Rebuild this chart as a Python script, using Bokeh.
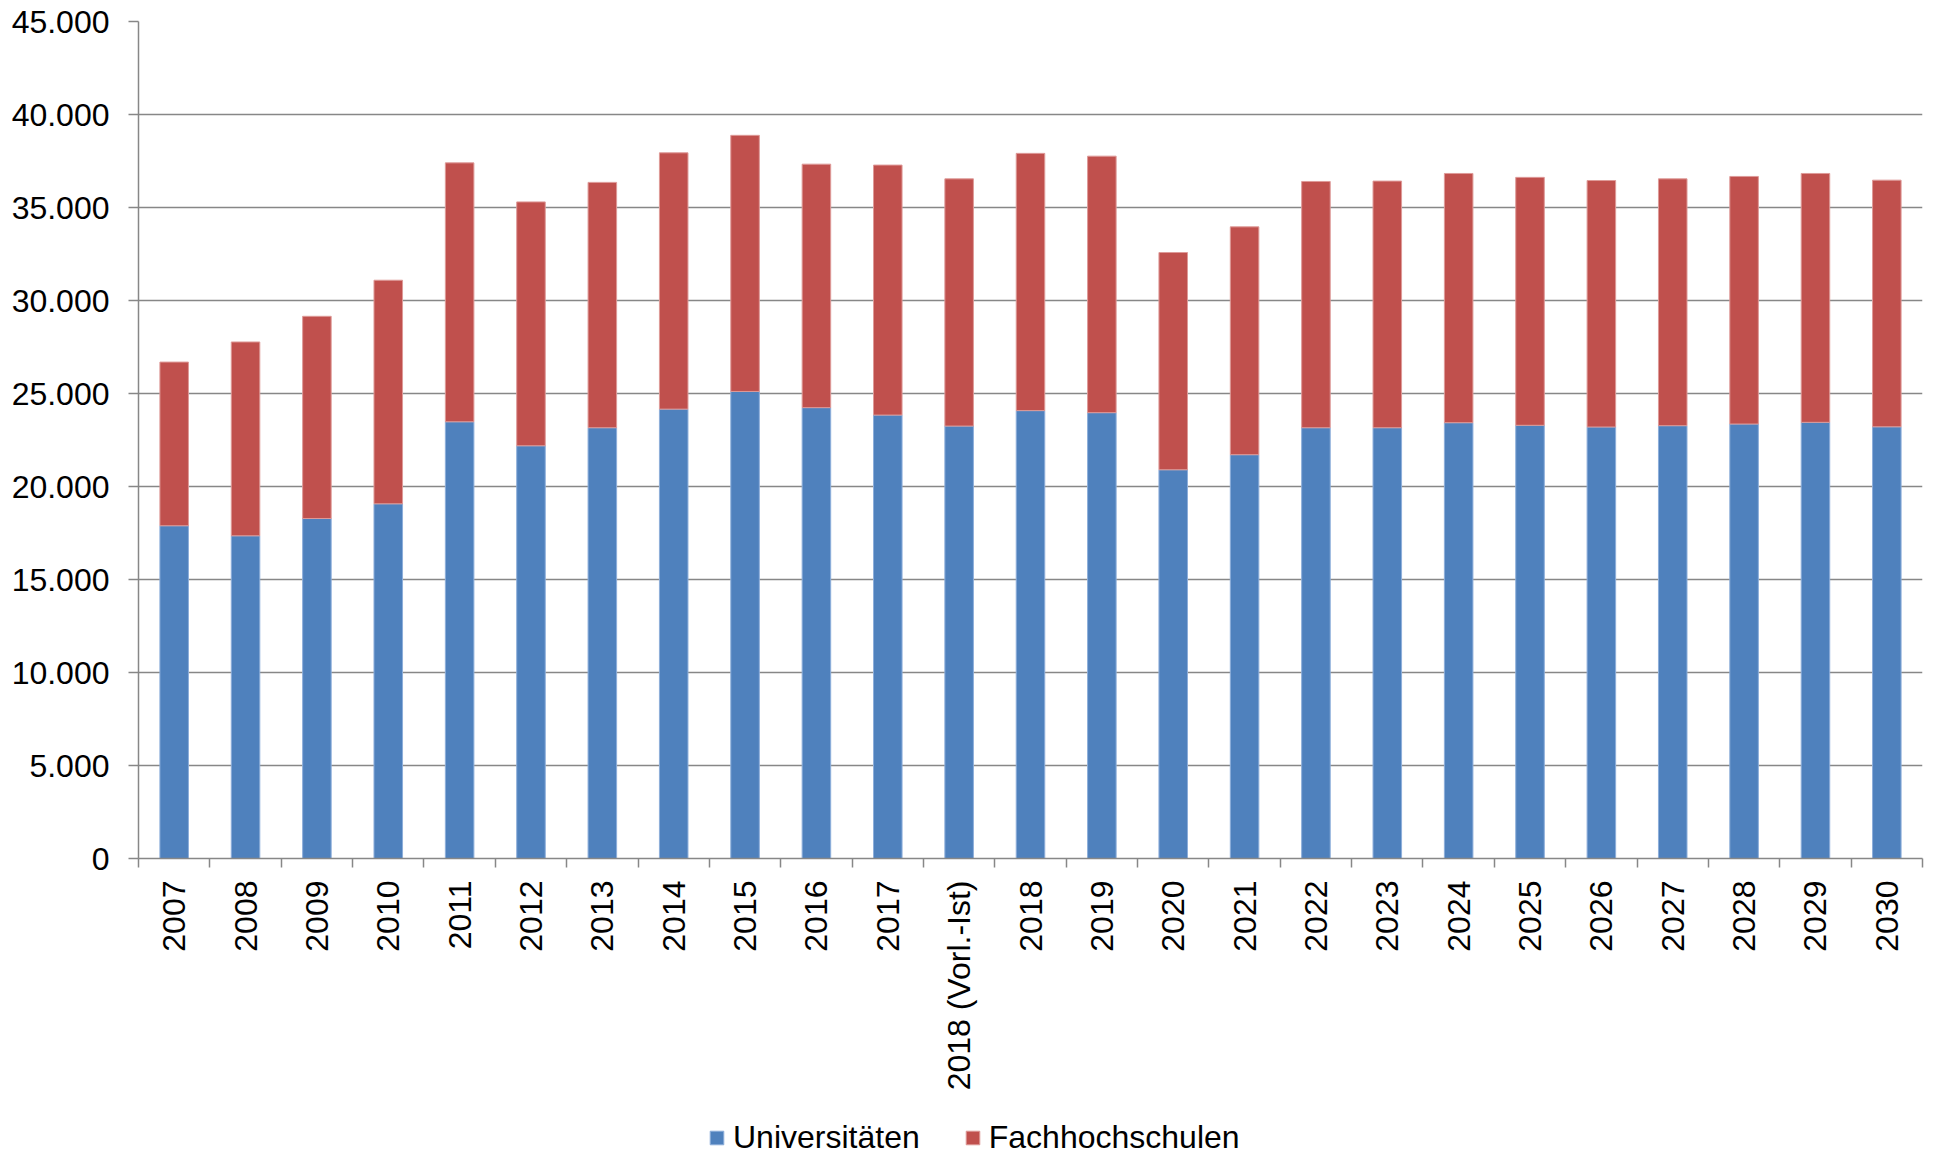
import math
from bokeh.plotting import figure
from bokeh.layouts import column
from bokeh.models import (ColumnDataSource, Range1d, FixedTicker, CustomJSTickFormatter,
                          Legend, LegendItem)
from bokeh.embed import file_html
from bokeh.resources import INLINE

categories = ["2007", "2008", "2009", "2010", "2011", "2012", "2013", "2014", "2015",
              "2016", "2017", "2018 (Vorl.-Ist)", "2018", "2019", "2020", "2021", "2022",
              "2023", "2024", "2025", "2026", "2027", "2028", "2029", "2030"]
universitaeten = [17890, 17350, 18280, 19070, 23480, 22190, 23160, 24160, 25110,
                  24240, 23840, 23250, 24080, 23970, 20900, 21710, 23160,
                  23160, 23430, 23290, 23200, 23270, 23360, 23450, 23210]
fachhochschulen = [8800, 10420, 10870, 12020, 13920, 13110, 13190, 13780, 13770,
                   13090, 13440, 13290, 13830, 13790, 11680, 12250, 13240,
                   13260, 13400, 13330, 13250, 13270, 13310, 13380, 13260]
series_names = ["Universitäten", "Fachhochschulen"]
y_ticks = [0, 5000, 10000, 15000, 20000, 25000, 30000, 35000, 40000, 45000]
y_max = 45000

fill_colors = ["#4F81BD", "#C0504D"]
edge_colors = ["#8DAEDA", "#DE9A98"]
FONT = "Liberation Sans"
FS = "32px"
GRAY = "#878787"

n = len(categories)
centers = [i + 0.5 for i in range(n)]
source = ColumnDataSource(dict(x=centers, uni=universitaeten, fh=fachhochschulen))

p = figure(width=1936, height=1100, output_backend="svg", toolbar_location=None,
           x_range=Range1d(0, n), y_range=Range1d(0, y_max),
           min_border_left=138, min_border_right=14, min_border_top=21,
           min_border_bottom=242)
p.outline_line_color = None
p.background_fill_color = "white"
p.border_fill_color = "white"

renderers = p.vbar_stack(["uni", "fh"], x="x", width=0.4, source=source,
                         fill_color=fill_colors, line_color=edge_colors, line_width=1)

# grid
p.xgrid.visible = False
p.ygrid.ticker = FixedTicker(ticks=y_ticks)
p.ygrid.grid_line_color = GRAY
p.ygrid.grid_line_width = 1.5

# y axis
ya = p.yaxis[0]
ya.ticker = FixedTicker(ticks=y_ticks)
ya.formatter = CustomJSTickFormatter(
    code="return tick.toFixed(0).replace(/\\B(?=(\\d{3})+(?!\\d))/g, '.');")
ya.axis_line_color = GRAY
ya.axis_line_width = 1.5
ya.major_tick_line_color = GRAY
ya.major_tick_line_width = 1.5
ya.major_tick_out = 10
ya.major_tick_in = 0
ya.minor_tick_line_color = None
ya.major_label_text_font = FONT
ya.major_label_text_font_size = FS
ya.major_label_text_color = "black"
ya.major_label_standoff = 19

# x axis: labels at category centres, ticks at category boundaries
xa = p.xaxis[0]
xa.ticker = FixedTicker(ticks=centers, minor_ticks=list(range(0, n + 1)))
xa.formatter = CustomJSTickFormatter(args=dict(labels=categories),
                                     code="return labels[Math.floor(tick)];")
xa.axis_line_color = GRAY
xa.axis_line_width = 1.5
xa.major_tick_line_color = None
xa.major_tick_out = 9
xa.major_tick_in = 0
xa.minor_tick_line_color = GRAY
xa.minor_tick_line_width = 1.5
xa.minor_tick_out = 9
xa.minor_tick_in = 0
xa.major_label_orientation = math.pi / 2
xa.major_label_text_font = FONT
xa.major_label_text_font_size = FS
xa.major_label_text_color = "black"
xa.major_label_standoff = 13

# legend strip below the chart (its bars lie far outside its y range, so only
# the legend swatches are visible)
p2 = figure(width=1936, height=56, output_backend="svg", toolbar_location=None,
            x_range=Range1d(0, n), y_range=Range1d(1e6, 2e6),
            x_axis_location=None, y_axis_location=None,
            min_border_left=0, min_border_right=0, min_border_top=0, min_border_bottom=0)
p2.outline_line_color = None
p2.grid.visible = False
p2.background_fill_color = "white"
p2.border_fill_color = "white"
swatches = p2.vbar_stack(["uni", "fh"], x="x", width=0.4, source=source,
                         fill_color=fill_colors, line_color=edge_colors, line_width=1)

legend = Legend(items=[LegendItem(label=name, renderers=[r])
                       for name, r in zip(series_names, swatches)],
                orientation="horizontal", location=(570, 0),
                label_text_font=FONT, label_text_font_size=FS,
                label_text_color="black",
                glyph_width=17, glyph_height=17, label_standoff=8, spacing=44,
                padding=0, margin=0, border_line_color=None,
                background_fill_alpha=0)
p2.add_layout(legend, "center")

layout = column(p, p2, spacing=0)
open("out.html", "w").write(file_html(layout, INLINE))
